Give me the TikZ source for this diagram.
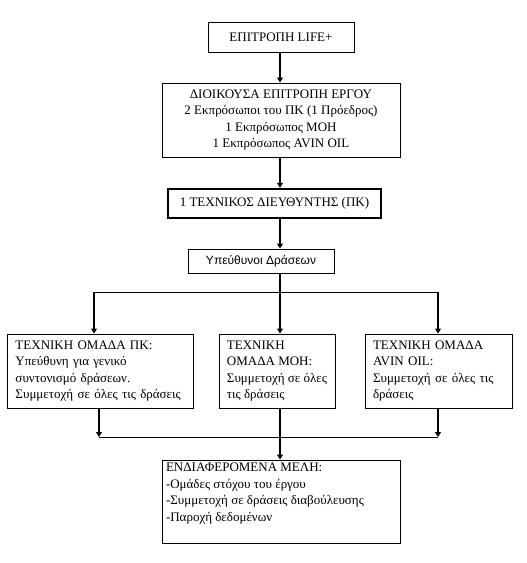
\documentclass[tikz,border=0pt]{standalone}
\usepackage{fontspec}
\setmainfont{Liberation Serif}
\newfontfamily\grsans{Liberation Sans}
\usetikzlibrary{arrows.meta,positioning}

\begin{document}
\begin{tikzpicture}[x=1pt,y=-1pt,
  box/.style={draw, line width=1pt, font=\fontsize{13}{16.5}\selectfont, align=center, inner sep=2pt},
  grp/.style={box, align=left, minimum height=74},
  arr/.style={line width=1.7pt, -{Triangle[length=5pt,width=6pt]}},
  link/.style={line width=1pt},
]
  \useasboundingbox (0,0) rectangle (527,563);
  \coordinate (axis) at (280,0);

  % Top of the chain
  \node[box, minimum width=146, minimum height=30] (life) at (281,37) {ΕΠΙΤΡΟΠΗ LIFE+};
  \node[box, minimum width=238, minimum height=74] (steer) at (281,120)
    {ΔΙΟΙΚΟΥΣΑ ΕΠΙΤΡΟΠΗ ΕΡΓΟΥ\\2 Εκπρόσωποι του ΠΚ (1 Πρόεδρος)\\1 Εκπρόσωπος ΜΟΗ\\1 Εκπρόσωπος AVIN OIL};
  \node[box, line width=2.4pt, minimum width=213, minimum height=29] (techdir) at (274.5,203.5)
    {1 ΤΕΧΝΙΚΟΣ ΔΙΕΥΘΥΝΤΗΣ (ΠΚ)};
  \node[box, font=\grsans\fontsize{12}{14}\selectfont, minimum width=146, minimum height=24] (resp) at (261,261)
    {Υπεύθυνοι Δράσεων};

  % Technical teams
  \node[grp, inner xsep=8.5pt, text width=169pt] (teamPK) at (100,371)
    {ΤΕΧΝΙΚΗ ΟΜΑΔΑ ΠΚ:\\Υπεύθυνη για γενικό\\συντονισμό δράσεων.\\Συμμετοχή σε όλες τις δράσεις};
  \node[grp, minimum width=116] (teamMOH) at (277,371)
    {ΤΕΧΝΙΚΗ\\ΟΜΑΔΑ ΜΟΗ:\\Συμμετοχή σε όλες\\τις δράσεις};
  \node[grp, inner xsep=8pt, text width=131pt] (teamAVIN) at (438.5,371)
    {ΤΕΧΝΙΚΗ ΟΜΑΔΑ\\AVIN OIL:\\Συμμετοχή σε όλες τις\\δράσεις};

  % Stakeholders
  \node[box, inner sep=3pt, minimum width=238, minimum height=83] (members) at (281,501.5)
    {\parbox[c][77pt][t]{230pt}{\raggedright ΕΝΔΙΑΦΕΡΟΜΕΝΑ ΜΕΛΗ:\\-Ομάδες στόχου του έργου\\-Συμμετοχή σε δράσεις διαβούλευσης\\-Παροχή δεδομένων}};

  % Connectors
  \coordinate (fork) at (280,292);
  \coordinate (forkL) at (94,292);
  \coordinate (forkR) at (438,292);
  \coordinate (joinL) at (99,437);
  \coordinate (joinR) at (438,437);

  \draw[arr] (life.south -| axis) -- (steer.north -| axis);
  \draw[arr] (steer.south -| axis) -- (techdir.north -| axis);
  \draw[arr] (techdir.south -| axis) -- (resp.north -| axis);
  \draw[line width=1.7pt] (resp.south -| axis) -- (fork);
  \draw[link] (forkL) -- (forkR);
  \draw[arr] (forkL) -- (forkL |- teamPK.north);
  \draw[arr] (fork) -- (fork |- teamMOH.north);
  \draw[arr] (forkR) -- (forkR |- teamAVIN.north);

  \draw[arr] (teamPK.south -| joinL) -- (joinL);
  \draw[arr] (teamAVIN.south -| joinR) -- (joinR);
  \draw[link] (joinL) -- (joinR);
  \draw[arr] (teamMOH.south -| axis) -- (members.north -| axis);
\end{tikzpicture}
\end{document}
